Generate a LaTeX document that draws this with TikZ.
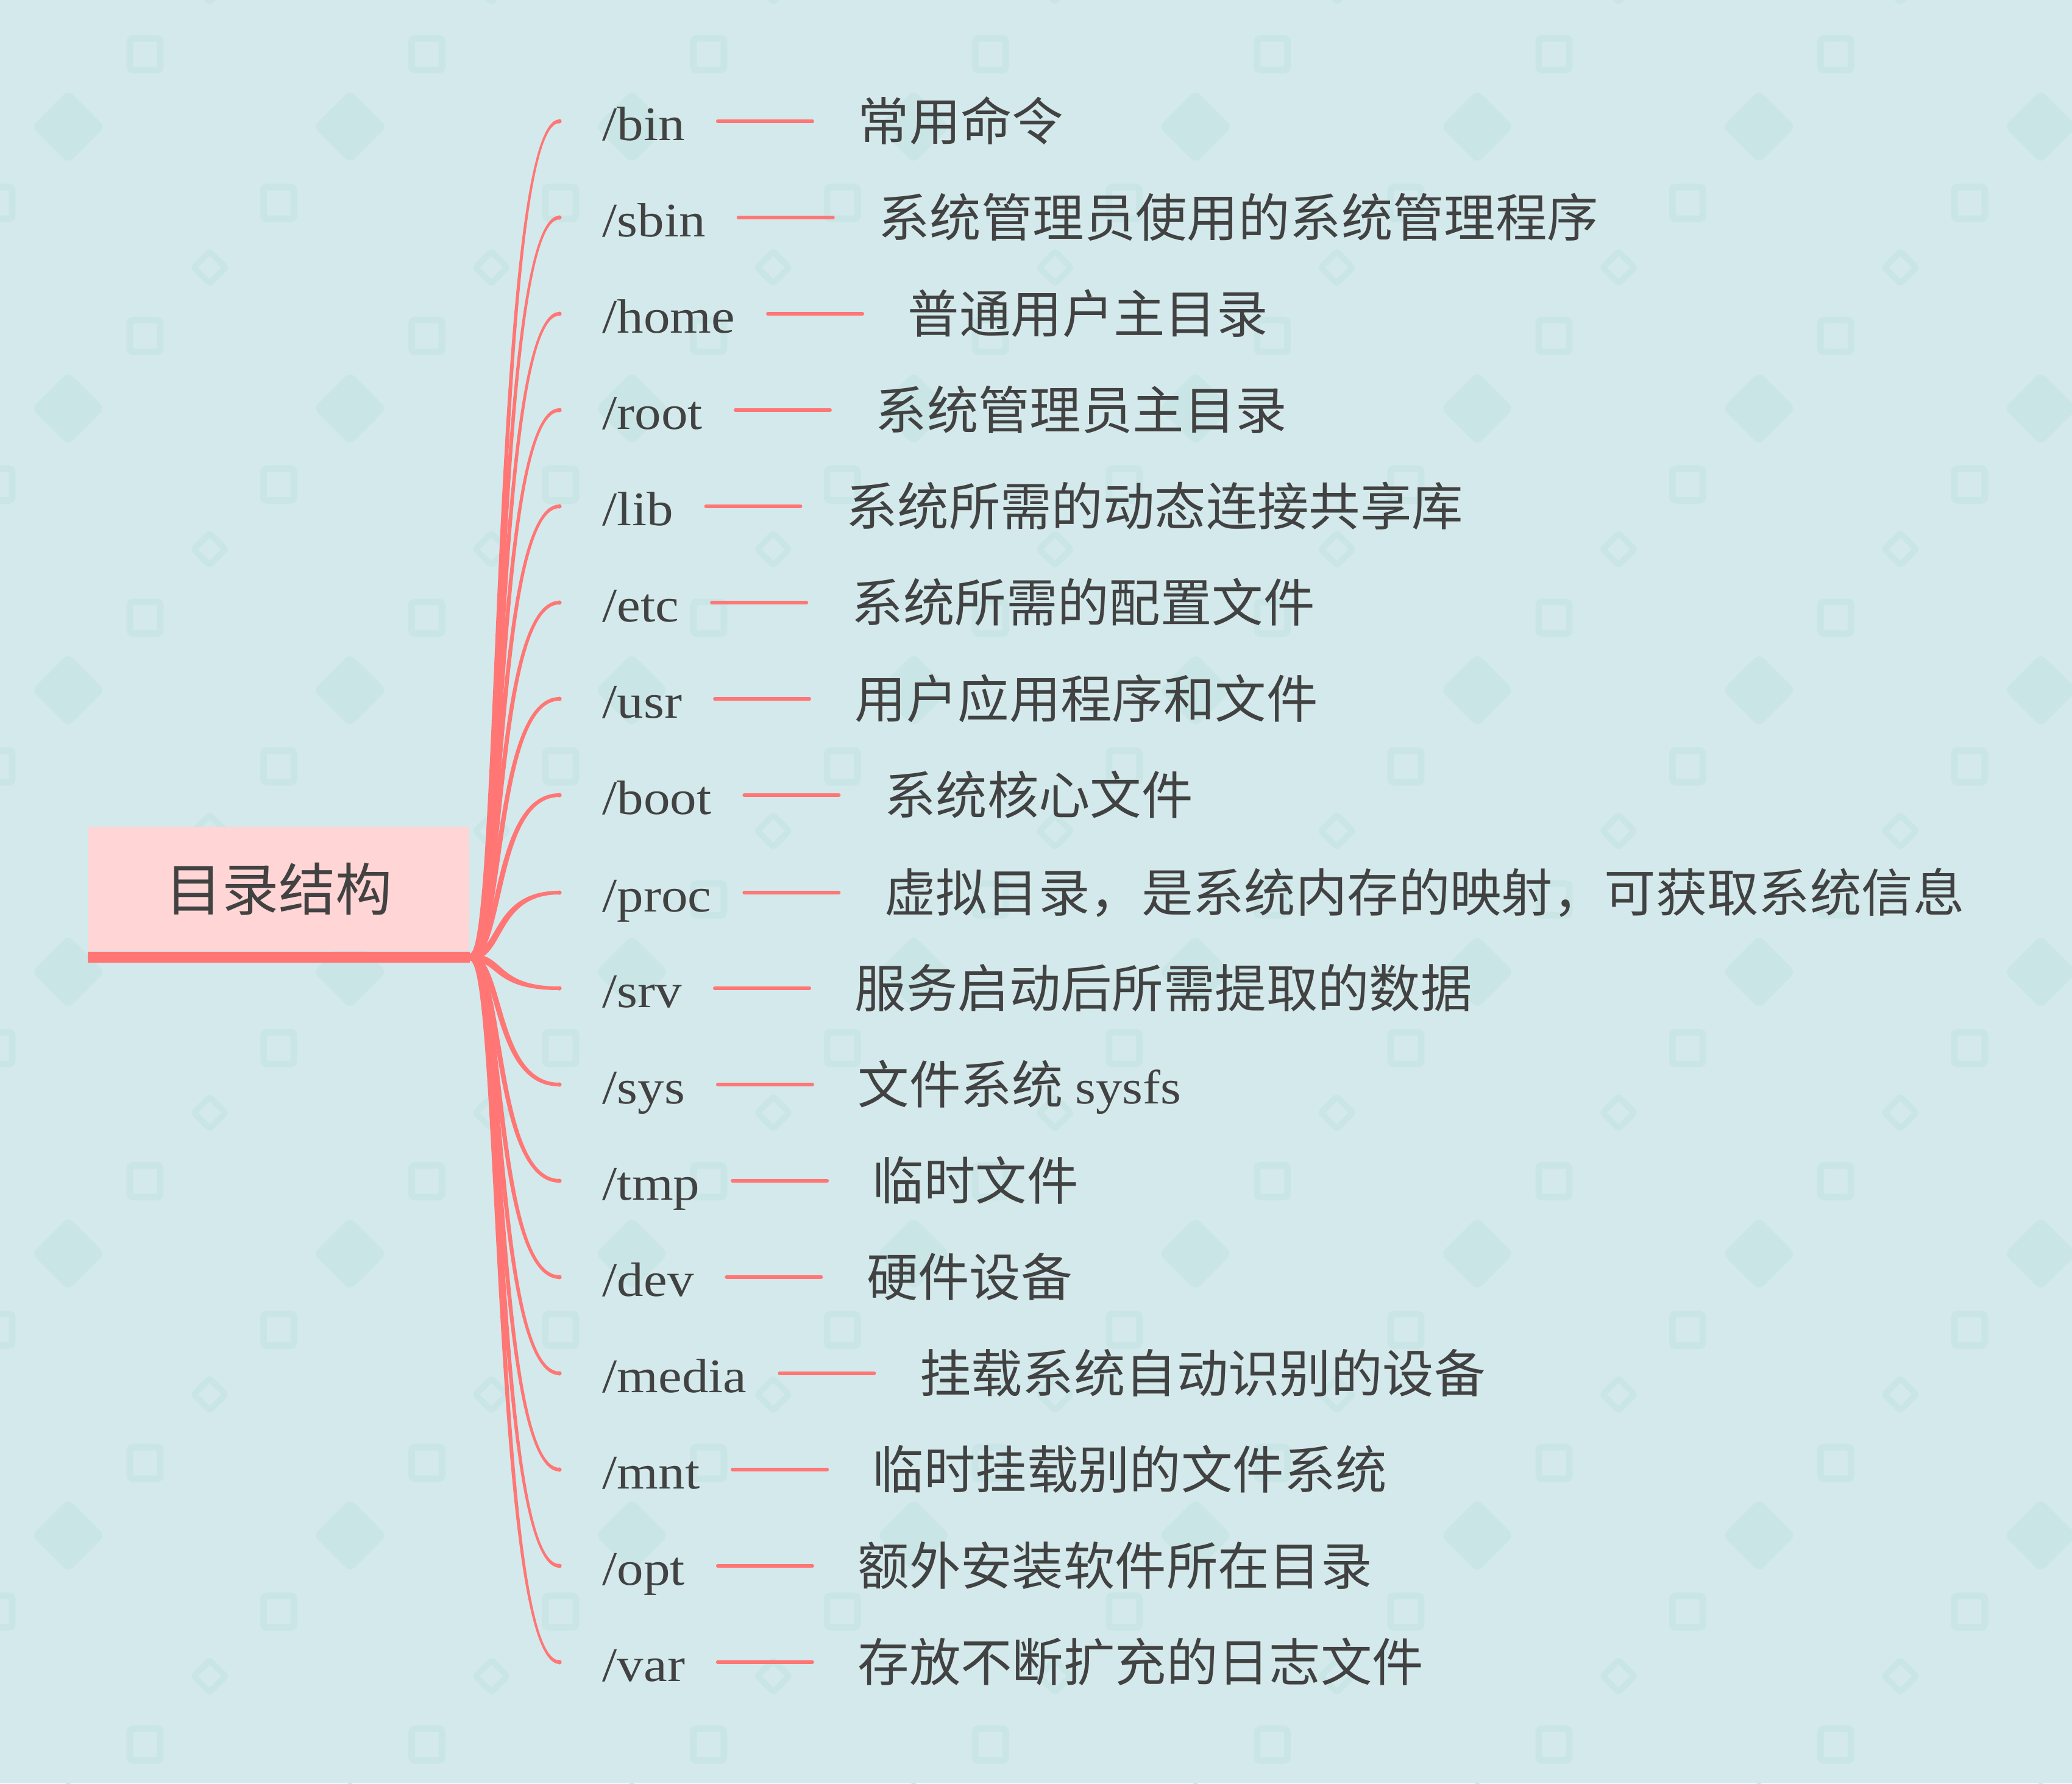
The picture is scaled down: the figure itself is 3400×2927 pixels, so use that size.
\documentclass[tikz,border=0pt]{standalone}
\usepackage{fontspec}
\setmainfont{Liberation Serif}[FakeStretch=1.1]
\newfontfamily\cjk{Noto Sans CJK SC}
\usetikzlibrary{positioning,calc}
\definecolor{sea}{RGB}{211,233,235}
\definecolor{seadeep}{RGB}{202,229,230}
\definecolor{coral}{RGB}{255,118,117}
\definecolor{blush}{RGB}{255,213,213}
\definecolor{ink}{RGB}{66,66,66}

\begin{document}
\begin{tikzpicture}[
  x=0.01cm, y=-0.01cm,
  tile/.style={draw=seadeep, line width=3.1pt, rounded corners=1.5pt},
  gem/.style={fill=seadeep, rounded corners=3pt},
  chip/.style={draw=seadeep, line width=2.8pt, rounded corners=1pt},
  tree/.style={fill=blush, minimum width=6.25cm, minimum height=2.04cm, inner sep=0pt,
               text=ink, font=\cjk\fontsize{26.5pt}{30pt}\selectfont},
  dir/.style={anchor=base west, inner sep=0pt, text=ink, font=\fontsize{22.5pt}{27pt}\selectfont},
  txt/.style={inner sep=0pt, text=ink, font=\cjk\fontsize{24pt}{28pt}\selectfont},
  twig/.style={fill=coral},
  tie/.style={draw=coral, line width=1.65pt, line cap=round},
]

\useasboundingbox (0,0) rectangle (3400,2927);
\fill[sea] (0,0) rectangle (3400,2927);

% wallpaper
\foreach \i in {0,...,7}
  \foreach \j in {-1,...,6} {
    \begin{scope}[shift={({462.4*\i},{462.4*\j})}]
      \draw[tile] (213,63) rectangle (263,115);
      \fill[gem] (112,148) -- (172,208) -- (112,268) -- (52,208) -- cycle;
      \draw[tile] (-30,307) rectangle (20,359);
      \draw[chip] (344,413) -- (370,439) -- (344,465) -- (318,439) -- cycle;
    \end{scope}
  }

% root
\node[tree] (tree) at (457.5,1459) {目录结构};
\fill[coral] (tree.south west) rectangle ($(tree.south east)+(0,18)$);
\coordinate (o) at ($(tree.south east)+(0,9)$);

% directories
\node[dir] (bin)   at (988,230)  {/bin};
\node[dir] (sbin)  at (988,388)  {/sbin};
\node[dir] (home)  at (988,546)  {/home};
\node[dir] (rt)    at (988,704)  {/root};
\node[dir] (lib)   at (988,862)  {/lib};
\node[dir] (etc)   at (988,1020) {/etc};
\node[dir] (usr)   at (988,1178) {/usr};
\node[dir] (boot)  at (988,1336) {/boot};
\node[dir] (proc)  at (988,1496) {/proc};
\node[dir] (srv)   at (988,1653) {/srv};
\node[dir] (sys)   at (988,1811) {/sys};
\node[dir] (tmp)   at (988,1969) {/tmp};
\node[dir] (dev)   at (988,2127) {/dev};
\node[dir] (media) at (988,2285) {/media};
\node[dir] (mnt)   at (988,2443) {/mnt};
\node[dir] (opt)   at (988,2601) {/opt};
\node[dir] (var)   at (988,2759) {/var};

% what they hold
\node[txt, base right=2.82cm of bin]   (bin-txt)   {常用命令};
\node[txt, base right=2.82cm of sbin]  (sbin-txt)  {系统管理员使用的系统管理程序};
\node[txt, base right=2.82cm of home]  (home-txt)  {普通用户主目录};
\node[txt, base right=2.82cm of rt]    (rt-txt)    {系统管理员主目录};
\node[txt, base right=2.82cm of lib]   (lib-txt)   {系统所需的动态连接共享库};
\node[txt, base right=2.82cm of etc]   (etc-txt)   {系统所需的配置文件};
\node[txt, base right=2.82cm of usr]   (usr-txt)   {用户应用程序和文件};
\node[txt, base right=2.82cm of boot]  (boot-txt)  {系统核心文件};
\node[txt, base right=2.82cm of proc]  (proc-txt)  {虚拟目录，是系统内存的映射，可获取系统信息};
\node[txt, base right=2.82cm of srv]   (srv-txt)   {服务启动后所需提取的数据};
\node[txt, base right=2.82cm of sys]   (sys-txt)   {文件系统 {\rmfamily\fontsize{22.5pt}{27pt}\selectfont sysfs}};
\node[txt, base right=2.82cm of tmp]   (tmp-txt)   {临时文件};
\node[txt, base right=2.82cm of dev]   (dev-txt)   {硬件设备};
\node[txt, base right=2.82cm of media] (media-txt) {挂载系统自动识别的设备};
\node[txt, base right=2.82cm of mnt]   (mnt-txt)   {临时挂载别的文件系统};
\node[txt, base right=2.82cm of opt]   (opt-txt)   {额外安装软件所在目录};
\node[txt, base right=2.82cm of var]   (var-txt)   {存放不断扩充的日志文件};

% tapered branches and ties
\foreach \n/\s in {bin/-1,sbin/-1,home/-1,rt/-1,lib/-1,etc/-1,usr/-1,boot/-1,proc/-1,
                   srv/1,sys/1,tmp/1,dev/1,media/1,mnt/1,opt/1,var/1} {
  \coordinate (\n-in) at ([shift={(-70,-31)}]\n.base west);
  \fill[twig] ($(o)+(0,-5.5)$)
      .. controls ($(o)+({54+5.5*\s},-5.5)$) and ($(\n-in)+({-109+3*\s},-3)$) .. ($(\n-in)+(0,-3)$)
      -- ($(\n-in)+(0,3)$)
      .. controls ($(\n-in)+({-109-3*\s},3)$) and ($(o)+({54-5.5*\s},5.5)$) .. ($(o)+(0,5.5)$) -- cycle;
  \fill[twig] (\n-in) circle[radius=3.6];
  \draw[tie] ([shift={(53,-31)}]\n.base east) -- ([shift={(-74,-31)}]\n-txt.base west);
}

\end{tikzpicture}
\end{document}
